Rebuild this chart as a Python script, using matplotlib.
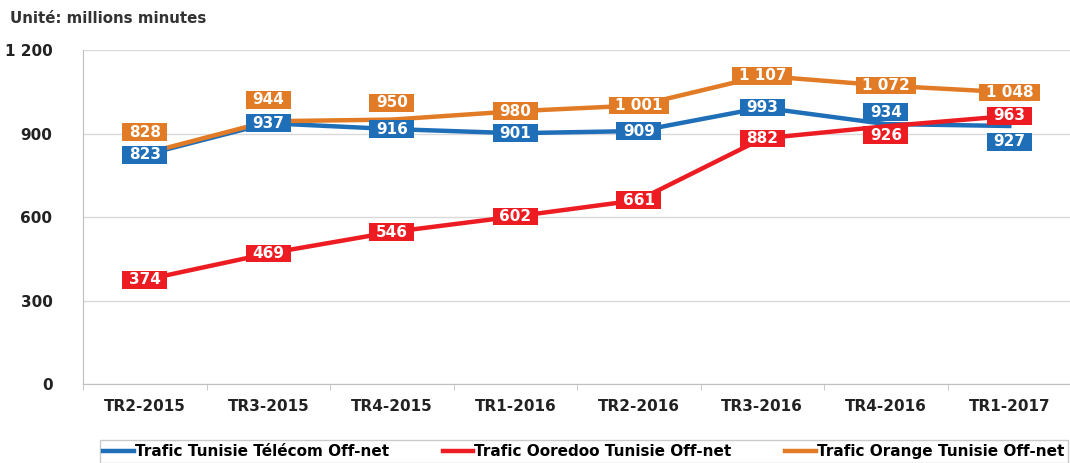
import matplotlib.pyplot as plt
from matplotlib.ticker import FixedLocator

quarters = ["TR2-2015", "TR3-2015", "TR4-2015", "TR1-2016",
            "TR2-2016", "TR3-2016", "TR4-2016", "TR1-2017"]
tt_values = [823, 937, 916, 901, 909, 993, 934, 927]
ooredoo_values = [374, 469, 546, 602, 661, 882, 926, 963]
orange_values = [828, 944, 950, 980, 1001, 1107, 1072, 1048]

series_names = ["Trafic Tunisie Télécom Off-net",
                "Trafic Ooredoo Tunisie Off-net",
                "Trafic Orange Tunisie Off-net"]

blue = "#1f6fb8"
red = "#ec1c22"
orange = "#e27b25"

# label offsets in points (0 = centred on the point)
tt_offsets = [0, 0, 0, 0, 0, 0, 8.6, -11.5]
ooredoo_offsets = [0, 0, 0, 0, 0, 0, -6.3, 0]
orange_offsets = [15.5, 15.5, 12, 0, 0, 0, 0, 0]


def fmt(v):
    return "{:,}".format(v).replace(",", " ")


fig = plt.figure(figsize=(10.7, 4.63), dpi=100)
ax = fig.add_axes([0.0776, 0.1706, 0.9234, 0.7214])

x = list(range(len(quarters)))
all_series = [(tt_values, blue, tt_offsets),
              (ooredoo_values, red, ooredoo_offsets),
              (orange_values, orange, orange_offsets)]

for (vals, col, offs), name in zip(all_series, series_names):
    ax.plot(x, vals, color=col, lw=3.2, label=name, zorder=3)

for vals, col, offs in all_series:
    for xi, v, o in zip(x, vals, offs):
        ax.annotate(fmt(v), (xi, v), xytext=(0, o), textcoords="offset points",
                    ha="center", va="center", color="white", fontsize=11,
                    fontweight="bold", zorder=5,
                    bbox=dict(boxstyle="square,pad=0.42", fc=col, ec="none",
                              mutation_aspect=0.2))

ax.set_ylim(0, 1200)
ax.set_yticks([0, 300, 600, 900, 1200])
ax.set_yticklabels([fmt(t) for t in [0, 300, 600, 900, 1200]],
                   fontsize=11, fontweight="bold", color="#222222")
ax.set_xlim(-0.5, 7.5)
ax.set_xticks(x)
ax.set_xticklabels(quarters, fontsize=11, fontweight="bold", color="#222222")
ax.xaxis.set_minor_locator(FixedLocator([i + 0.5 for i in range(-1, 8)]))
ax.tick_params(axis="x", which="major", length=0, pad=11)
ax.tick_params(axis="x", which="minor", length=4, color="#bfbfbf")
ax.tick_params(axis="y", length=0, pad=22)

ax.grid(axis="y", color="#d9d9d9", lw=1)
ax.set_axisbelow(True)
for s in ["top", "right"]:
    ax.spines[s].set_visible(False)
ax.spines["left"].set_color("#bfbfbf")
ax.spines["bottom"].set_color("#bfbfbf")

fig.text(0.009, 0.959, "Unité: millions minutes", fontsize=10.8,
         fontweight="bold", color="#333333", ha="left", va="center")

leg = fig.legend(loc="lower left", bbox_to_anchor=(0.093, 0.0, 0.905, 0.055),
                 mode="expand", ncol=3, frameon=True, fancybox=False,
                 handlelength=2.0, handletextpad=0.05, columnspacing=0.2,
                 borderpad=0.25, borderaxespad=0.0,
                 prop=dict(size=11, weight="bold"))
leg.get_frame().set_edgecolor("#bfbfbf")
leg.get_frame().set_linewidth(1)

fig.savefig("out.png", dpi=100)
